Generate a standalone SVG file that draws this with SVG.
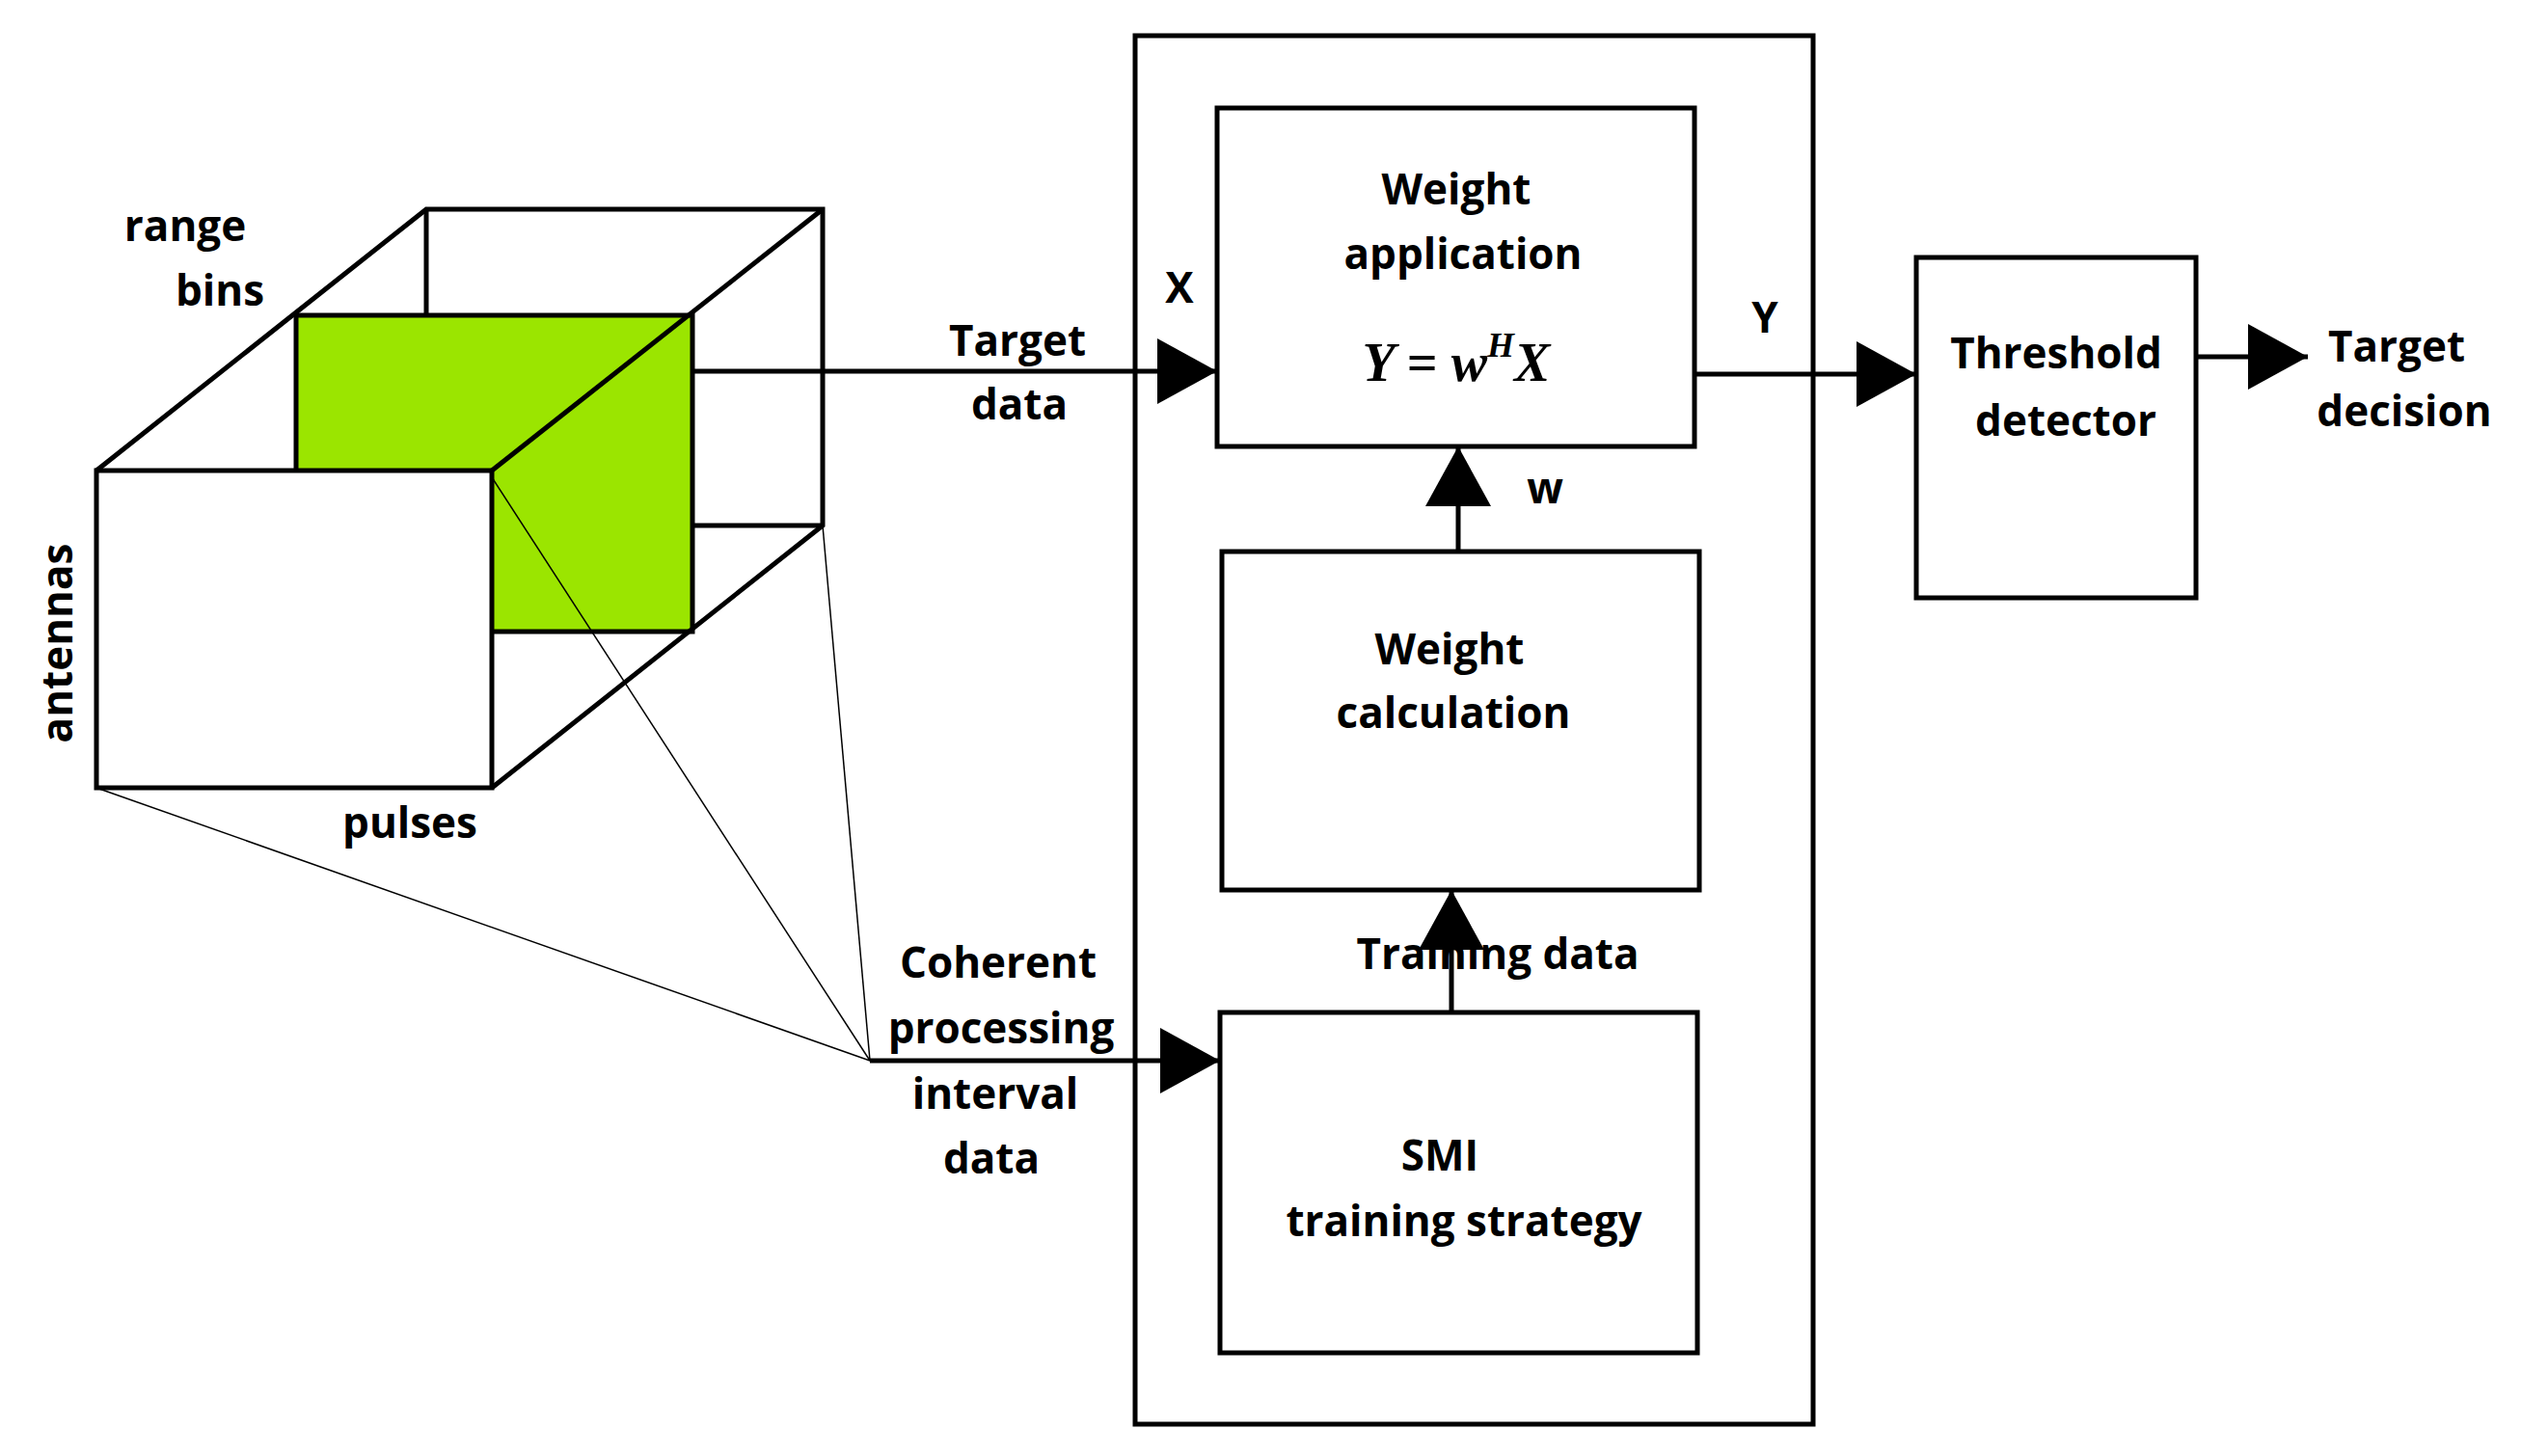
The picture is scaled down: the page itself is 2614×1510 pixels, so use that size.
<svg xmlns="http://www.w3.org/2000/svg" width="2614" height="1510" viewBox="0 0 2614 1510">
<style>
.b{fill:none;stroke:#000;stroke-width:5}
.t{font-family:"Open Sans","DejaVu Sans",sans-serif;font-weight:bold;font-size:44px;text-anchor:middle;dominant-baseline:middle;fill:#000}
.c{stroke:#000;stroke-width:5;fill:none}
.thin{stroke:#000;stroke-width:1.5;fill:none}
</style>
<defs><marker id="a" markerWidth="12" markerHeight="12" refX="11" refY="6" orient="auto" markerUnits="userSpaceOnUse" viewBox="0 0 12 12"><path d="M0,0L12,6L0,12z"/></marker>
<marker id="A" viewBox="0 0 10 10" refX="10" refY="5" markerWidth="62" markerHeight="68" markerUnits="userSpaceOnUse" orient="auto" preserveAspectRatio="none"><path d="M0,0L10,5L0,10z"/></marker></defs>
<rect width="2614" height="1510" fill="#fff"/>
<g id="cube">
<rect x="307" y="327" width="411" height="328" fill="#9be500" stroke="#000" stroke-width="5"/>
<rect x="100" y="488" width="410" height="329" fill="#fff" stroke="#000" stroke-width="5"/>
<polyline class="c" points="100,488 442,217 853,217 853,545 510,817"/>
<line class="c" x1="510" y1="488" x2="853" y2="217"/>
<line class="c" x1="442" y1="217" x2="442" y2="327"/>
<line class="c" x1="718" y1="545" x2="853" y2="545"/>
<line class="thin" x1="100" y1="817" x2="902" y2="1100"/>
<line class="thin" x1="510" y1="495" x2="902" y2="1100"/>
<line class="thin" x1="853" y1="545" x2="902" y2="1100"/>
<text class="t" x="192" y="238">range</text><text class="t" x="228" y="305">bins</text>
<text class="t" transform="translate(63,667) rotate(-90)">antennas</text>
<text class="t" x="425" y="857">pulses</text>
</g>
<g id="outer"><rect class="b" x="1177" y="37" width="703" height="1440"/></g>
<g id="wa"><rect class="b" x="1262" y="112" width="495" height="351"/>
<text class="t" x="1510" y="200">Weight</text><text class="t" x="1517" y="267">application</text>
<text x="1510" y="382" text-anchor="middle" dominant-baseline="middle" font-family="Liberation Serif,serif" font-style="italic" font-weight="bold" font-size="56">Y <tspan font-style="normal">=</tspan> w<tspan dy="-20" font-size="36">H</tspan><tspan dy="20">X</tspan></text></g>
<g id="wc"><rect class="b" x="1267" y="572" width="495" height="351"/>
<text class="t" x="1503" y="677">Weight</text><text class="t" x="1507" y="743">calculation</text></g>
<g id="smi"><rect class="b" x="1265" y="1050" width="495" height="353"/>
<text class="t" x="1493" y="1202">SMI</text><text class="t" x="1518" y="1270">training strategy</text></g>
<g id="td"><rect class="b" x="1987" y="267" width="290" height="353"/>
<text class="t" x="2132" y="370">Threshold</text><text class="t" x="2142" y="440">detector</text></g>
<g id="connectors">
<line class="c" x1="718" y1="385" x2="1262" y2="385" marker-end="url(#A)"/>
<line class="c" x1="1757" y1="388" x2="1987" y2="388" marker-end="url(#A)"/>
<line class="c" x1="2277" y1="370" x2="2393" y2="370" marker-end="url(#A)"/>
<line class="c" x1="1512" y1="572" x2="1512" y2="463" marker-end="url(#A)"/>
<line class="c" x1="1505" y1="1050" x2="1505" y2="923" marker-end="url(#A)"/>
<line class="c" x1="902" y1="1100" x2="1265" y2="1100" marker-end="url(#A)"/>
</g>
<g id="labels">
<text class="t" x="1055" y="357">Target</text><text class="t" x="1057" y="423">data</text>
<text class="t" x="1223" y="302">X</text>
<text class="t" x="1830" y="333">Y</text>
<text class="t" x="1602" y="510">w</text>
<text class="t" x="2485" y="363">Target</text><text class="t" x="2493" y="430">decision</text>
<text class="t" x="1553" y="993" text-anchor="start">Training data</text>
<text class="t" x="1035" y="1002">Coherent</text><text class="t" x="1038" y="1070">processing</text>
<text class="t" x="1032" y="1138">interval</text><text class="t" x="1028" y="1205">data</text>
</g>
</svg>
